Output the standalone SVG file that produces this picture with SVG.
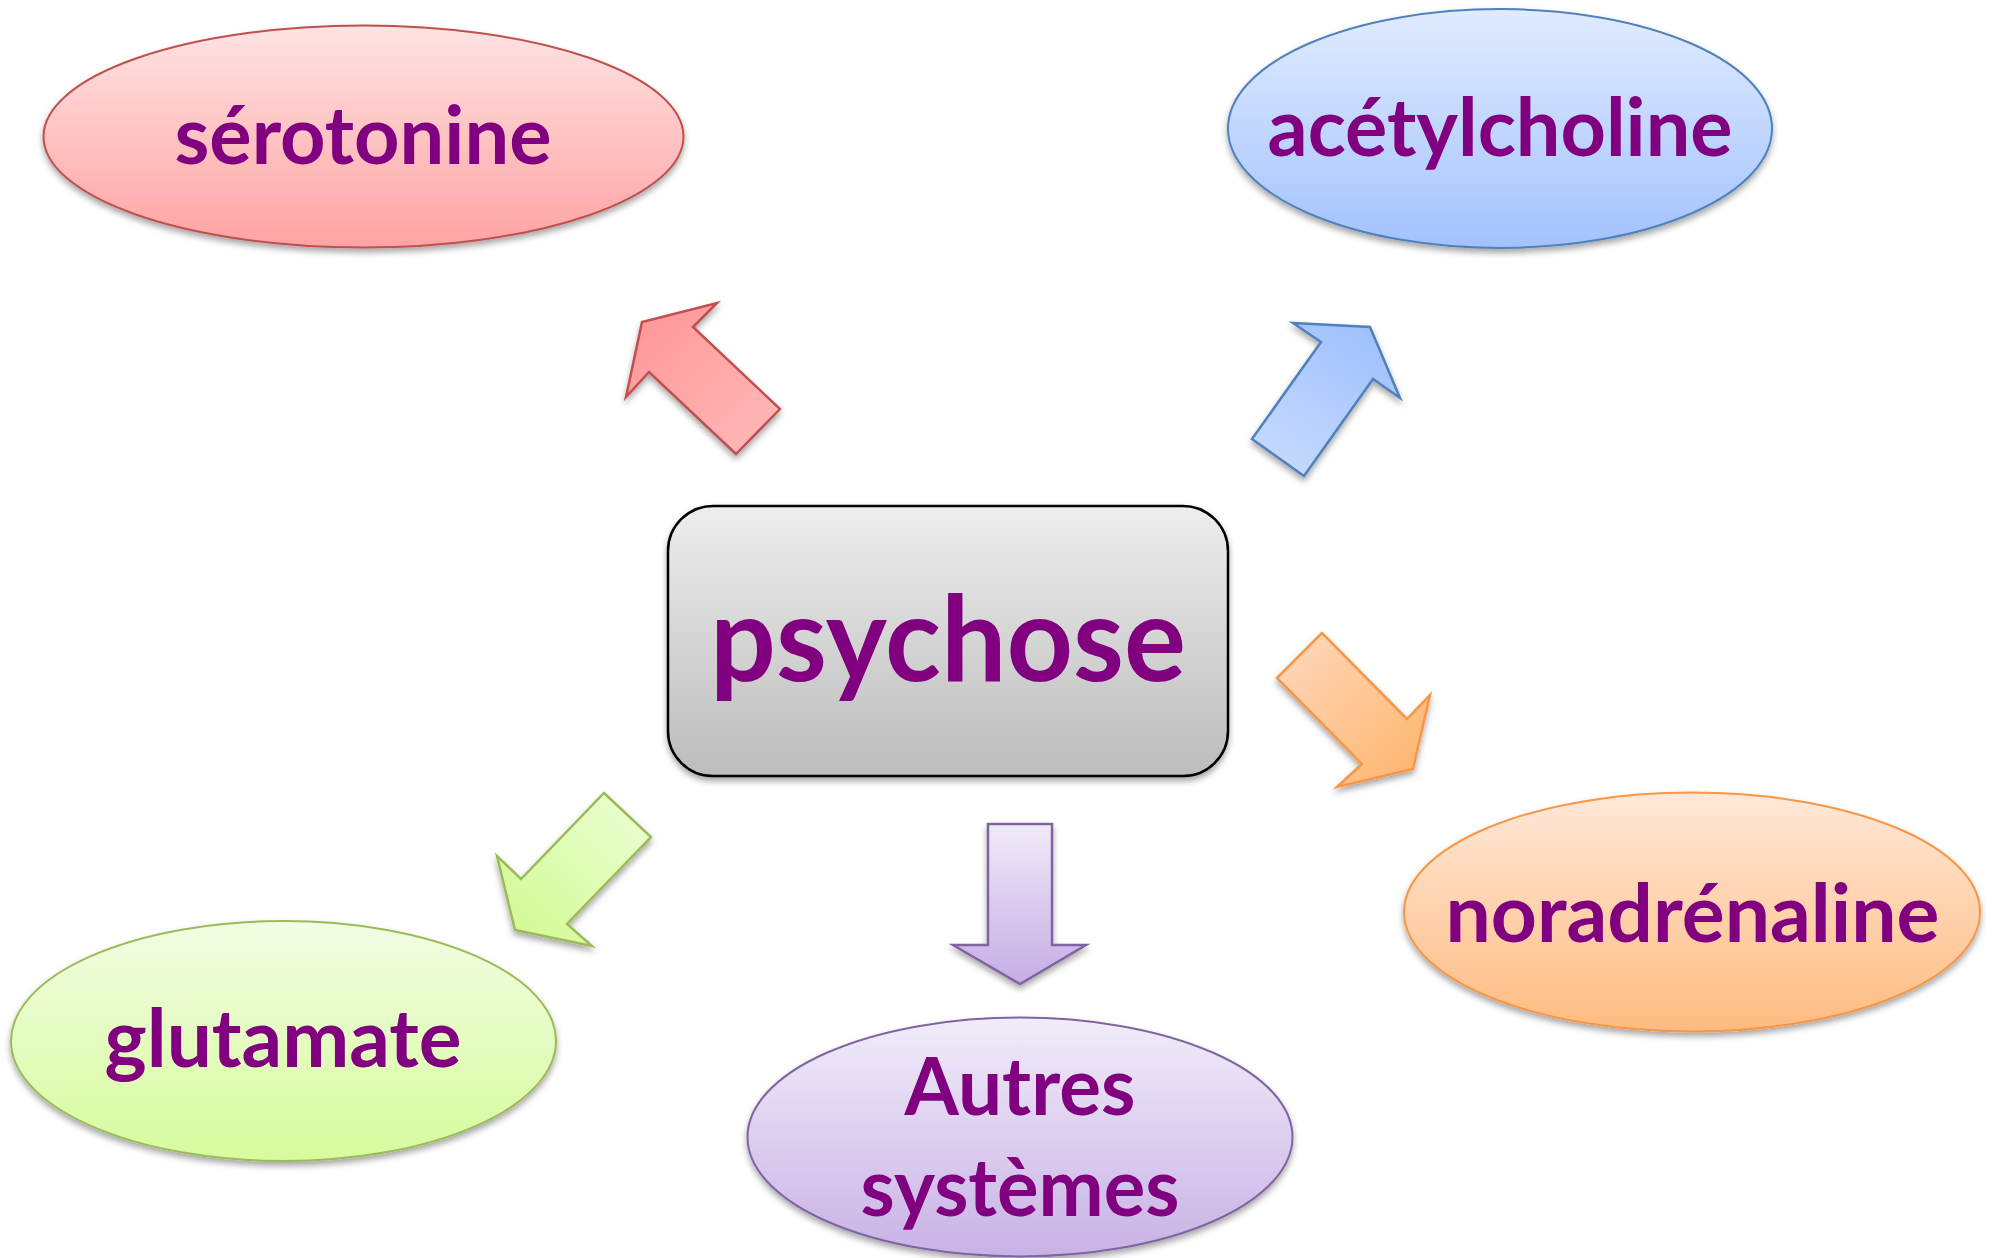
<svg xmlns="http://www.w3.org/2000/svg" width="1996" height="1258" viewBox="0 0 1996 1258">
  <style>
    .lbl { font-family: Lato, "Open Sans", "Liberation Sans", sans-serif; font-weight: bold; fill: #800080; text-anchor: middle; }
    .ell { font-size: 80px; }
    .big { font-size: 118px; }
  </style>
  <defs>
    <filter id="shadow" x="-10%" y="-10%" width="120%" height="130%">
      <feDropShadow dx="0" dy="4" stdDeviation="3" flood-color="#000" flood-opacity="0.35"/>
    </filter>
    <linearGradient id="gRed" x1="0" y1="0" x2="0" y2="1">
      <stop offset="0" stop-color="#ffe3e3"/>
      <stop offset="1" stop-color="#ffa3a3"/>
    </linearGradient>
    <linearGradient id="gBlue" x1="0" y1="0" x2="0" y2="1">
      <stop offset="0" stop-color="#e1ebfe"/>
      <stop offset="1" stop-color="#a2c2fd"/>
    </linearGradient>
    <linearGradient id="gOrange" x1="0" y1="0" x2="0" y2="1">
      <stop offset="0" stop-color="#ffe8d9"/>
      <stop offset="1" stop-color="#ffbb80"/>
    </linearGradient>
    <linearGradient id="gGreen" x1="0" y1="0" x2="0" y2="1">
      <stop offset="0" stop-color="#f2fde4"/>
      <stop offset="1" stop-color="#d6fb9c"/>
    </linearGradient>
    <linearGradient id="gPurple" x1="0" y1="0" x2="0" y2="1">
      <stop offset="0" stop-color="#f1ecf9"/>
      <stop offset="1" stop-color="#c8b2e5"/>
    </linearGradient>
    <linearGradient id="gGrey" x1="0" y1="0" x2="0" y2="1">
      <stop offset="0" stop-color="#ededed"/>
      <stop offset="1" stop-color="#bcbcbc"/>
    </linearGradient>
    <linearGradient id="aRed" gradientUnits="userSpaceOnUse" x1="758" y1="431" x2="642" y2="322">
      <stop offset="0" stop-color="#ffb5b5"/>
      <stop offset="1" stop-color="#ff9898"/>
    </linearGradient>
    <linearGradient id="aBlue" gradientUnits="userSpaceOnUse" x1="1278" y1="457" x2="1370" y2="327">
      <stop offset="0" stop-color="#c3d8fe"/>
      <stop offset="1" stop-color="#9fc0fd"/>
    </linearGradient>
    <linearGradient id="aOrange" gradientUnits="userSpaceOnUse" x1="1299" y1="655" x2="1413" y2="769">
      <stop offset="0" stop-color="#ffd3b2"/>
      <stop offset="1" stop-color="#ffb772"/>
    </linearGradient>
    <linearGradient id="aGreen" gradientUnits="userSpaceOnUse" x1="627" y1="815" x2="515" y2="930">
      <stop offset="0" stop-color="#e8fdcc"/>
      <stop offset="1" stop-color="#d3fa96"/>
    </linearGradient>
    <linearGradient id="aPurple" gradientUnits="userSpaceOnUse" x1="1020" y1="824" x2="1020" y2="984">
      <stop offset="0" stop-color="#f0eaf9"/>
      <stop offset="1" stop-color="#c5ade4"/>
    </linearGradient>
  </defs>

  <rect width="1996" height="1258" fill="#ffffff"/>

  <g id="connectors" stroke-width="2.5" stroke-linejoin="miter" filter="url(#shadow)">
    <polygon id="arrow-serotonine" points="780,409 736,454 649,372 626,397 642,322 717,303 693,327" fill="url(#aRed)" stroke="#c0504d"/>
    <polygon id="arrow-acetylcholine" points="1252,439 1321,342 1293,323 1370,327 1400,398 1373,379 1304,476" fill="url(#aBlue)" stroke="#4f81bd"/>
    <polygon id="arrow-noradrenaline" points="1322,633 1277,678 1362,764 1337,787 1413,769 1430,695 1407,719" fill="url(#aOrange)" stroke="#f79646"/>
    <polygon id="arrow-glutamate" points="604,793 651,837 567,924 592,946 515,930 497,856 521,879" fill="url(#aGreen)" stroke="#9bbb59"/>
    <polygon id="arrow-autres" points="988,824 1052,824 1052,945 1086,945 1020,984 953,945 988,945" fill="url(#aPurple)" stroke="#8064a2"/>
  </g>

  <g id="node-psychose">
    <rect x="668" y="506" width="560" height="270" rx="45" ry="45" fill="url(#gGrey)" stroke="#000" stroke-width="2.5" filter="url(#shadow)"/>
    <text class="lbl big" x="948" y="681" textLength="476" lengthAdjust="spacingAndGlyphs">psychose</text>
  </g>

  <g id="node-serotonine">
    <ellipse cx="363.5" cy="136.5" rx="320" ry="111" fill="url(#gRed)" stroke="#c0504d" stroke-width="2" filter="url(#shadow)"/>
    <text class="lbl ell" x="363" y="164" textLength="377" lengthAdjust="spacingAndGlyphs">sérotonine</text>
  </g>

  <g id="node-acetylcholine">
    <ellipse cx="1500" cy="128.5" rx="272" ry="119.5" fill="url(#gBlue)" stroke="#4f81bd" stroke-width="2" filter="url(#shadow)"/>
    <text class="lbl ell" x="1500" y="156" textLength="465" lengthAdjust="spacingAndGlyphs">acétylcholine</text>
  </g>

  <g id="node-noradrenaline">
    <ellipse cx="1692" cy="912" rx="288" ry="119.5" fill="url(#gOrange)" stroke="#f79646" stroke-width="2" filter="url(#shadow)"/>
    <text class="lbl ell" x="1692.5" y="942" textLength="494" lengthAdjust="spacingAndGlyphs">noradrénaline</text>
  </g>

  <g id="node-glutamate">
    <ellipse cx="283.5" cy="1041" rx="272.5" ry="120" fill="url(#gGreen)" stroke="#9bbb59" stroke-width="2" filter="url(#shadow)"/>
    <text class="lbl ell" x="283" y="1067" textLength="357" lengthAdjust="spacingAndGlyphs">glutamate</text>
  </g>

  <g id="node-autres">
    <ellipse cx="1020" cy="1137" rx="272.5" ry="119.5" fill="url(#gPurple)" stroke="#8064a2" stroke-width="2" filter="url(#shadow)"/>
    <text class="lbl ell" x="1020" y="1115" textLength="231" lengthAdjust="spacingAndGlyphs">Autres</text>
    <text class="lbl ell" x="1020" y="1216" textLength="319" lengthAdjust="spacingAndGlyphs">systèmes</text>
  </g>
</svg>
